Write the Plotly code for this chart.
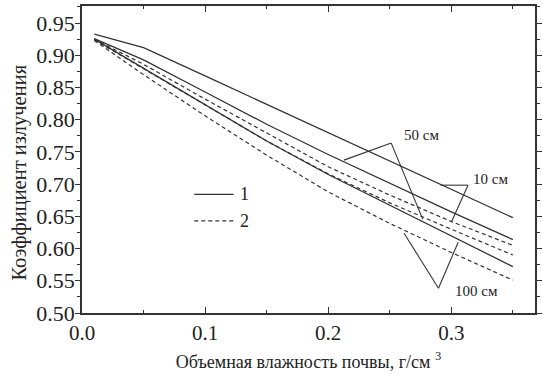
import plotly.graph_objects as go

# Volumetric soil moisture, g/cm^3
moisture = [0.01, 0.05, 0.10, 0.15, 0.20, 0.25, 0.30, 0.35]

# Emissivity, model 1 (solid) for three sounding depths
em1_10cm = [0.933, 0.912, 0.868, 0.824, 0.780, 0.736, 0.692, 0.648]
em1_50cm = [0.926, 0.893, 0.843, 0.793, 0.746, 0.701, 0.657, 0.614]
em1_100cm = [0.925, 0.880, 0.823, 0.767, 0.715, 0.667, 0.619, 0.572]

# Emissivity, model 2 (dashed) for the same depths
em2_10cm = [0.925, 0.886, 0.832, 0.779, 0.727, 0.683, 0.642, 0.605]
em2_50cm = [0.924, 0.879, 0.822, 0.767, 0.716, 0.671, 0.630, 0.590]
em2_100cm = [0.923, 0.870, 0.806, 0.745, 0.688, 0.639, 0.594, 0.551]

y_ticks = [0.50, 0.55, 0.60, 0.65, 0.70, 0.75, 0.80, 0.85, 0.90, 0.95]
x_ticks = [0.0, 0.1, 0.2, 0.3]

INK = "#333333"
FONT = "Times New Roman, Liberation Serif, DejaVu Serif, serif"

fig = go.Figure()

solid = dict(color=INK, width=1.3)
dashed = dict(color=INK, width=1.2, dash="4px,3px")
for ys in (em1_10cm, em1_50cm, em1_100cm):
    fig.add_trace(go.Scatter(x=moisture, y=ys, mode="lines", line=solid,
                             showlegend=False, hoverinfo="skip"))
for ys in (em2_10cm, em2_50cm, em2_100cm):
    fig.add_trace(go.Scatter(x=moisture, y=ys, mode="lines", line=dashed,
                             showlegend=False, hoverinfo="skip"))

# Depth callouts: label, label anchor, vertex and the two pointer ends
callouts = [
    ("50 см", (0.2600, 0.761), (0.2512, 0.7637), (0.2128, 0.7373), (0.2768, 0.6457)),
    ("10 см", (0.3160, 0.693), (0.3136, 0.6984), (0.2912, 0.6984), (0.3000, 0.6410)),
    ("100 см", (0.3010, 0.519), (0.2896, 0.5385), (0.2616, 0.6239), (0.3056, 0.6099)),
]
shapes = []
annotations = []
for text, (tx, ty), (vx, vy), (ax1, ay1), (ax2, ay2) in callouts:
    for ex, ey in ((ax1, ay1), (ax2, ay2)):
        shapes.append(dict(type="line", xref="x", yref="y", x0=vx, y0=vy, x1=ex, y1=ey,
                           line=dict(color=INK, width=1.1)))
    annotations.append(dict(x=tx, y=ty, xref="x", yref="y", text=text, showarrow=False,
                            xanchor="left", yanchor="bottom",
                            font=dict(family=FONT, size=15, color="#222")))

# Legend block
legend_rows = [("1", 0.684, solid), ("2", 0.643, dashed)]
for label, ly, style in legend_rows:
    shapes.append(dict(type="line", xref="x", yref="y", x0=0.0912, x1=0.1232, y0=ly, y1=ly,
                       line=style))
    annotations.append(dict(x=0.1265, y=ly, xref="x", yref="y", text=label, showarrow=False,
                            xanchor="left", yanchor="middle",
                            font=dict(family=FONT, size=18, color="#222")))

# Vertical axis title, placed slightly below the plot's mid-height
annotations.append(dict(x=-0.140, y=0.456, xref="paper", yref="paper",
                        text="Коэффициент излучения", textangle=-90, showarrow=False,
                        xanchor="center", yanchor="middle",
                        font=dict(family=FONT, size=20.5, color="#222")))

fig.update_layout(
    width=543, height=376,
    margin=dict(l=82, r=1, t=6, b=63),
    paper_bgcolor="white", plot_bgcolor="white",
    font=dict(family=FONT, color="#222", size=18),
    shapes=shapes, annotations=annotations,
    showlegend=False,
)
fig.update_xaxes(
    range=[0, 0.368], tickvals=x_ticks, ticktext=[f"{v:.1f}" for v in x_ticks],
    ticks="inside", ticklen=6, tickwidth=1.2, tickcolor=INK,
    minor=dict(dtick=0.05, tick0=0, ticks="inside", ticklen=3, tickcolor=INK, showgrid=False),
    showline=True, linecolor=INK, linewidth=1.5, mirror="ticks",
    showgrid=False, zeroline=False,
    tickfont=dict(family=FONT, size=21),
    title=dict(text="Объемная влажность почвы, г/см <sup>3</sup>",
               font=dict(family=FONT, size=18), standoff=11),
)
fig.update_yaxes(
    range=[0.5, 0.9765], tickvals=y_ticks, ticktext=[f"{v:.2f}" for v in y_ticks],
    ticks="outside", ticklen=5, tickwidth=1.2, tickcolor=INK,
    ticklabelstandoff=-4,
    minor=dict(dtick=0.025, tick0=0.5, ticks="outside", ticklen=3, tickcolor=INK, showgrid=False),
    showline=True, linecolor=INK, linewidth=1.5, mirror="ticks",
    showgrid=False, zeroline=False,
    tickfont=dict(family=FONT, size=22),
)

fig.write_html("out.html")
